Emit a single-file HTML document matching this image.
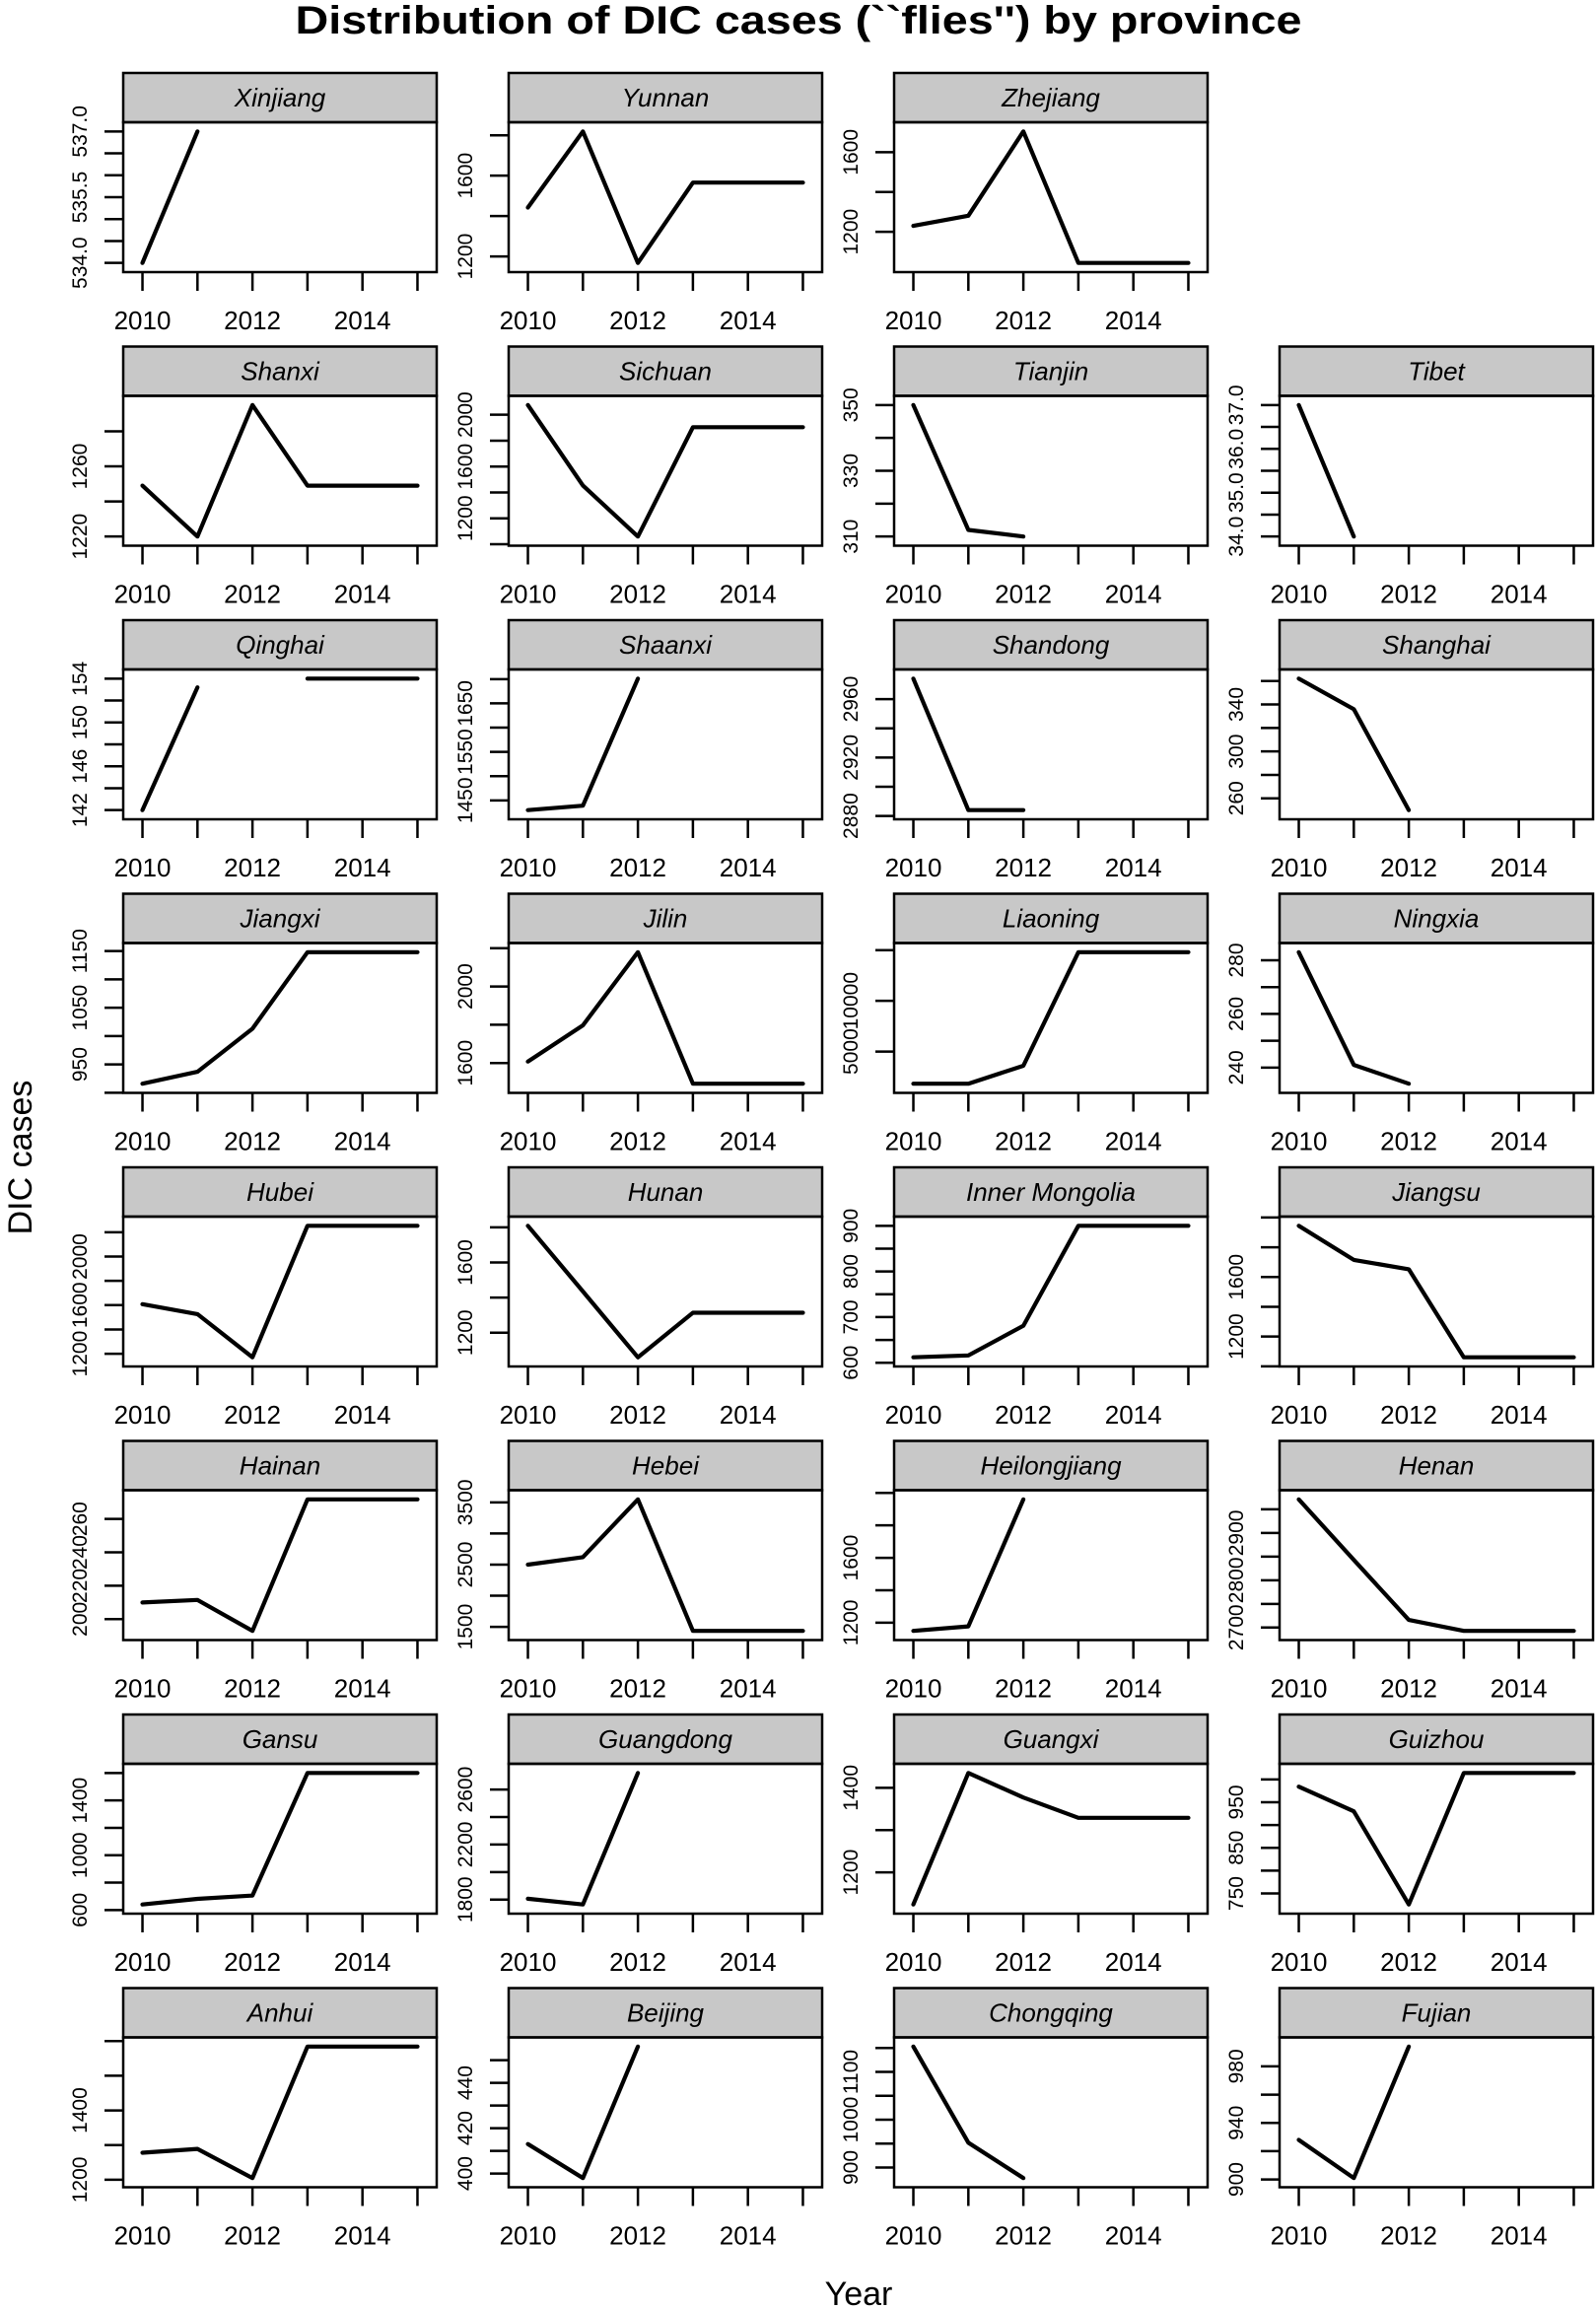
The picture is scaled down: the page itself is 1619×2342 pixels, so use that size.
<!DOCTYPE html>
<html><head><meta charset="utf-8"><style>
html,body{margin:0;padding:0;background:#fff}
svg{display:block}
text{font-family:"Liberation Sans",Arial,sans-serif;fill:#000}
</style></head><body>
<svg id="chart" width="1619" height="2342" viewBox="0 0 1619 2342" xmlns="http://www.w3.org/2000/svg">
<text x="810" y="34" text-anchor="middle" font-size="40" font-weight="bold" textLength="1021" lengthAdjust="spacingAndGlyphs">Distribution of DIC cases (``flies'') by province</text>
<text transform="translate(32,1174) rotate(-90)" text-anchor="middle" font-size="34">DIC cases</text>
<text x="871" y="2338" text-anchor="middle" font-size="34">Year</text>
<g id="panels"></g>
</svg>
<script>
const years = [2010, 2011, 2012, 2013, 2014, 2015];
const xTickLabels = [2010, 2012, 2014];
const provinces = ["Xinjiang","Yunnan","Zhejiang",null,
 "Shanxi","Sichuan","Tianjin","Tibet",
 "Qinghai","Shaanxi","Shandong","Shanghai",
 "Jiangxi","Jilin","Liaoning","Ningxia",
 "Hubei","Hunan","Inner Mongolia","Jiangsu",
 "Hainan","Hebei","Heilongjiang","Henan",
 "Gansu","Guangdong","Guangxi","Guizhou",
 "Anhui","Beijing","Chongqing","Fujian"];
const cases = [
 [534,537,null,null,null,null],
 [1442,1819,1168,1566,1566,1566],
 [1230,1281,1704,1044,1044,1044],
 null,
 [1249,1220,1295,1249,1249,1249],
 [2075,1454,1060,1904,1904,1904],
 [350,312,310,null,null,null],
 [37,34,null,null,null,null],
 [142,153.2,null,154,154,154],
 [1430,1439,1701,null,null,null],
 [2974,2884,2884,null,null,null],
 [362,336,250,null,null,null],
 [916,937,1013,1148,1148,1148],
 [1608,1797,2179,1492,1492,1492],
 [1830,1830,3600,14800,14800,14800],
 [283,241,234,null,null,null],
 [1608,1526,1171,2253,2253,2253],
 [1809,1435,1060,1314,1314,1314],
 [612,616,681,900,900,900],
 [1944,1715,1652,1061,1061,1061],
 [210,211.5,193,271.7,271.7,271.7],
 [2500,2620,3548,1435,1435,1435],
 [1150,1178,1960,null,null,null],
 [2971,2843,2716,2693,2693,2693],
 [641,682,706,1600,1600,1600],
 [1806,1765,2720,null,null,null],
 [1124,1435,1377,1329,1329,1329],
 [984,930,726,1014,1014,1014],
 [1278,1289,1205,1584,1584,1584],
 [413,398,456,null,null,null],
 [1153,952,878,null,null,null],
 [928,901,994,null,null,null]
];
const yTicks = [
 [534,534.5,535,535.5,536,536.5,537],
 [1200,1400,1600,1800],
 [1200,1400,1600],
 null,
 [1220,1240,1260,1280],
 [1000,1200,1400,1600,1800,2000],
 [310,320,330,340,350],
 [34,34.5,35,35.5,36,36.5,37],
 [142,144,146,148,150,152,154],
 [1450,1500,1550,1600,1650,1700],
 [2880,2900,2920,2940,2960],
 [260,280,300,320,340,360],
 [900,950,1000,1050,1100,1150],
 [1600,1800,2000,2200],
 [5000,10000,15000],
 [240,250,260,270,280],
 [1200,1400,1600,1800,2000,2200,2400],
 [1200,1400,1600,1800],
 [600,650,700,750,800,850,900],
 [1000,1200,1400,1600,1800,2000],
 [200,220,240,260],
 [1500,2000,2500,3000,3500],
 [1200,1400,1600,1800,2000],
 [2700,2750,2800,2850,2900,2950],
 [600,800,1000,1200,1400,1600],
 [1800,2000,2200,2400,2600],
 [1200,1300,1400],
 [750,800,850,900,950,1000],
 [1200,1300,1400,1500,1600],
 [400,410,420,430,440,450],
 [900,950,1000,1050,1100,1150],
 [900,920,940,960,980]
];
const yLabels = [
 ["534.0","535.5","537.0"],[1200,1600],[1200,1600],null,
 [1220,1260],[1200,1600,2000],[310,330,350],["34.0","35.0","36.0","37.0"],
 [142,146,150,154],[1450,1550,1650],[2880,2920,2960],[260,300,340],
 [950,1050,1150],[1600,2000],[5000,10000],[240,260,280],
 [1200,1600,2000],[1200,1600],[600,700,800,900],[1200,1600],
 [200,220,240,260],[1500,2500,3500],[1200,1600],[2700,2800,2900],
 [600,1000,1400],[1800,2200,2600],[1200,1400],[750,850,950],
 [1200,1400],[400,420,440],[900,1000,1100],[900,940,980]
];

const NS = "http://www.w3.org/2000/svg";
const root = document.getElementById('panels');
const colLeft = [125, 516, 907, 1298], PW = 318, STRIP = 50, PH = 152, ROW0 = 74, ROWP = 277.5;
function mk(tag, attrs, parent){const e=document.createElementNS(NS,tag);for(const k in attrs)e.setAttribute(k,attrs[k]);parent.appendChild(e);return e;}
function slug(s){return s.toLowerCase().replace(/\s+/g,'-');}

provinces.forEach((name, i) => {
  if (!name) return;
  const r = Math.floor(i/4), c = i%4;
  const L = colLeft[c], T = ROW0 + r*ROWP, PT = T+STRIP, PB = PT+PH, R = L+PW;
  const g = mk('g', {}, root);
  
  
  const vals = cases[i];
  const nums = vals.filter(v => v !== null);
  let mn = Math.min(...nums), mx = Math.max(...nums);
  const pad = (mx - mn) * 0.07;
  const d0 = mn - pad, d1 = mx + pad;
  const xs = y => L + (y - 2009.65) / 5.7 * PW;
  const ys = v => PB - (v - d0) / (d1 - d0) * PH;
  const st = mk('rect', {x:L, y:T, width:PW, height:STRIP, fill:'#c8c8c8', stroke:'#000', 'stroke-width':2.5}, g);
  
  
  const stt = mk('text', {x:L+PW/2, y:T+34, 'text-anchor':'middle', 'font-size':26, 'font-style':'italic'}, g);
  stt.textContent = name;
  
  
  const box = mk('rect', {x:L, y:PT, width:PW, height:PH, fill:'none', stroke:'#000', 'stroke-width':2.5}, g);
  
  
  years.forEach(yr => {
    const t = mk('line', {x1:xs(yr), x2:xs(yr), y1:PB, y2:PB+19, stroke:'#000', 'stroke-width':2.5}, g);
    
    
  });
  xTickLabels.forEach(yr => {
    const t = mk('text', {x:xs(yr), y:PB+58, 'text-anchor':'middle', 'font-size':26}, g);
    t.textContent = yr;
    
    
  });
  yTicks[i].forEach(v => {
    if (v < d0 || v > d1) return;
    const t = mk('line', {x1:L-19, x2:L, y1:ys(v), y2:ys(v), stroke:'#000', 'stroke-width':2.5}, g);
    
    
  });
  yLabels[i].forEach(v => {
    const y = ys(parseFloat(v));
    const t = mk('text', {transform:`translate(${L-37},${y}) rotate(-90)`, 'text-anchor':'middle', 'font-size':21}, g);
    t.textContent = v;
    
    
  });
  let d = '', pen = false;
  vals.forEach((v, k) => {
    if (v === null) { pen = false; return; }
    d += (pen ? 'L' : 'M') + xs(years[k]).toFixed(1) + ',' + ys(v).toFixed(1);
    pen = true;
  });
  const p = mk('path', {d:d, fill:'none', stroke:'#000', 'stroke-width':4.2, 'stroke-linejoin':'round', 'stroke-linecap':'round'}, g);
  
  
});
</script>
</body></html>
